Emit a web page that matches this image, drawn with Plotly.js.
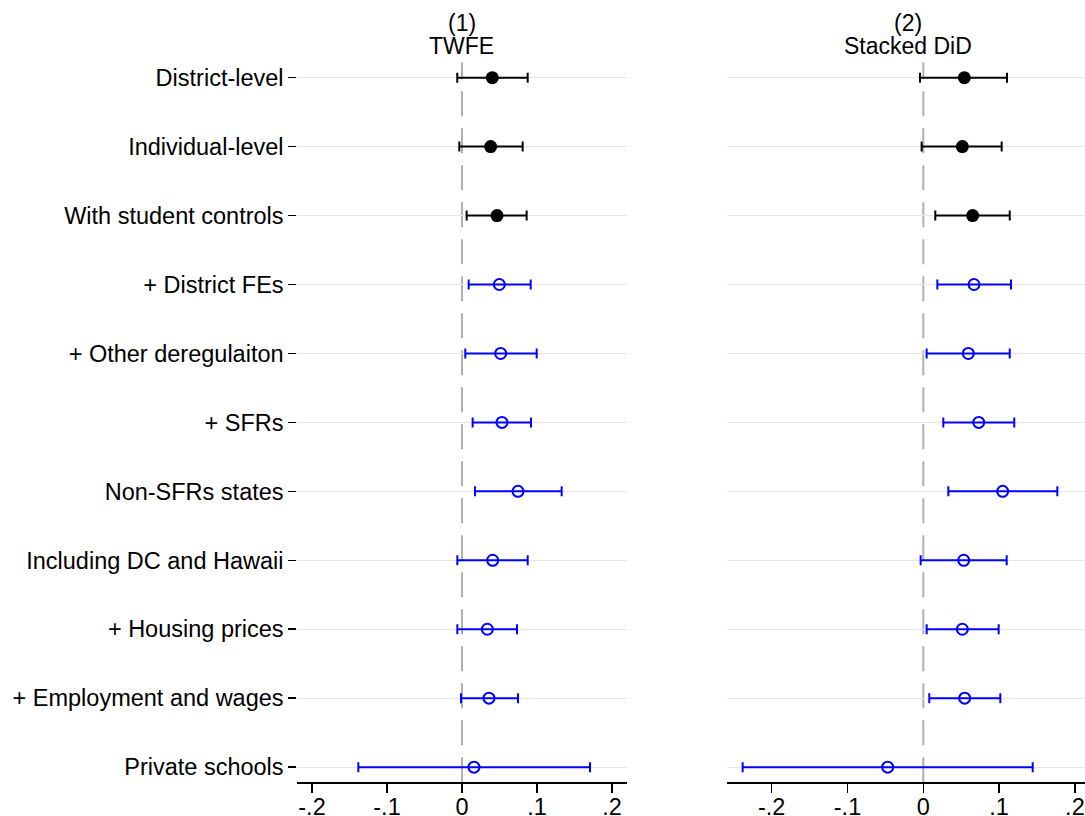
<!DOCTYPE html>
<html>
<head>
<meta charset="utf-8">
<script src="https://cdn.plot.ly/plotly-3.0.1.min.js"></script>
<style>
  html, body { margin: 0; padding: 0; background: #fff; }
  #chart { width: 1085px; height: 816px; }
</style>
</head>
<body>
<div id="chart"></div>
<script>
// Specification labels, top to bottom
const specs = [
  "District-level",
  "Individual-level",
  "With student controls",
  "+ District FEs",
  "+ Other deregulaiton",
  "+ SFRs",
  "Non-SFRs states",
  "Including DC and Hawaii",
  "+ Housing prices",
  "+ Employment and wages",
  "Private schools"
];

// Which group each specification belongs to
const specGroup = [
  "baseline", "baseline", "baseline",
  "robustness", "robustness", "robustness", "robustness",
  "robustness", "robustness", "robustness", "robustness"
];

// (1) TWFE: point estimates and confidence bounds
const twfeEst = [0.0404, 0.0382, 0.0467, 0.0498, 0.0516, 0.0533, 0.0747, 0.0409, 0.0338, 0.0360, 0.0160];
const twfeLo  = [-0.0063, -0.0036, 0.0062, 0.0089, 0.0044, 0.0142, 0.0173, -0.0062, -0.0062, -0.0013, -0.1382];
const twfeHi  = [0.0876, 0.0809, 0.0862, 0.0916, 0.0996, 0.0920, 0.1329, 0.0876, 0.0733, 0.0747, 0.1707];

// (2) Stacked DiD: point estimates and confidence bounds
const stackEst = [0.0541, 0.0515, 0.0651, 0.0669, 0.0594, 0.0731, 0.1047, 0.0533, 0.0515, 0.0546, -0.0470];
const stackLo  = [-0.0044, -0.0022, 0.0158, 0.0185, 0.0044, 0.0264, 0.0330, -0.0035, 0.0044, 0.0079, -0.2383];
const stackHi  = [0.1104, 0.1034, 0.1140, 0.1157, 0.1140, 0.1200, 0.1768, 0.1100, 0.0994, 0.1016, 0.1443];

// X-axis tick labels
const xTickVals = [-0.2, -0.1, 0, 0.1, 0.2];
const xTickText = ["-.2", "-.1", "0", ".1", ".2"];

const FONT = "Liberation Sans, Arial, Helvetica, sans-serif";
const FS = 23.5;
const rows = specs.map((_, i) => i + 1);

const groupStyle = {
  baseline:   { color: "#000000", marker: { symbol: "circle", size: 13, color: "#000000" } },
  robustness: { color: "#0000ff", marker: { symbol: "circle-open", size: 11, color: "#0000ff", line: { width: 2, color: "#0000ff" } } }
};

function panelTraces(est, lo, hi, xa, ya) {
  const out = [];
  ["baseline", "robustness"].forEach(g => {
    const idx = rows.map((r, i) => i).filter(i => specGroup[i] === g);
    const st = groupStyle[g];
    out.push({
      type: "scatter",
      mode: "markers",
      x: idx.map(i => est[i]),
      y: idx.map(i => rows[i]),
      xaxis: xa, yaxis: ya,
      marker: st.marker,
      error_x: {
        type: "data",
        symmetric: false,
        array: idx.map(i => hi[i] - est[i]),
        arrayminus: idx.map(i => est[i] - lo[i]),
        color: st.color,
        thickness: 2,
        width: 5
      },
      showlegend: false,
      hoverinfo: "x+y"
    });
  });
  return out;
}

const traces = [
  ...panelTraces(twfeEst, twfeLo, twfeHi, "x", "y"),
  ...panelTraces(stackEst, stackLo, stackHi, "x2", "y2")
];

const yRange = [11.22, 0.78];
const yDomain = [0.0413, 0.9234];

const xCommon = {
  tickvals: xTickVals,
  ticktext: xTickText,
  showline: true,
  linecolor: "#000000",
  linewidth: 1.5,
  ticks: "outside",
  ticklen: 9,
  tickwidth: 1.5,
  tickcolor: "#000000",
  ticklabelstandoff: -6,
  showgrid: false,
  zeroline: false,
  tickfont: { family: FONT, size: FS, color: "#000000" }
};

const layout = {
  width: 1085,
  height: 816,
  margin: { l: 0, r: 0, t: 0, b: 0 },
  paper_bgcolor: "#ffffff",
  plot_bgcolor: "#ffffff",
  font: { family: FONT, size: FS, color: "#000000" },
  xaxis: Object.assign({}, xCommon, { domain: [0.274, 0.5776], range: [-0.2196, 0.2196], anchor: "y" }),
  xaxis2: Object.assign({}, xCommon, { domain: [0.6703, 1.0], range: [-0.2586, 0.2133], anchor: "y2" }),
  yaxis: {
    domain: yDomain,
    range: yRange,
    tickvals: rows,
    ticktext: specs,
    ticks: "outside",
    ticklen: 8,
    tickwidth: 1.5,
    tickcolor: "#000000",
    showline: false,
    showgrid: true,
    gridcolor: "#e6e6e6",
    gridwidth: 1,
    zeroline: false,
    anchor: "x",
    tickfont: { family: FONT, size: FS, color: "#000000" }
  },
  yaxis2: {
    domain: yDomain,
    range: yRange,
    tickvals: rows,
    showticklabels: false,
    ticks: "",
    showline: false,
    showgrid: true,
    gridcolor: "#e6e6e6",
    gridwidth: 1,
    zeroline: false,
    anchor: "x2"
  },
  shapes: [
    { type: "line", xref: "x", yref: "y domain", x0: 0, x1: 0, y0: 0, y1: 1,
      line: { color: "#b0b0b0", width: 2, dash: "25px,12px" }, layer: "below" },
    { type: "line", xref: "x2", yref: "y2 domain", x0: 0, x1: 0, y0: 0, y1: 1,
      line: { color: "#b0b0b0", width: 2, dash: "25px,12px" }, layer: "below" }
  ],
  annotations: [
    { text: "(1)", xref: "paper", yref: "paper", x: 0.4255, y: 0.9718, xanchor: "center", yanchor: "middle", showarrow: false, font: { family: FONT, size: 23 } },
    { text: "TWFE", xref: "paper", yref: "paper", x: 0.4255, y: 0.9437, xanchor: "center", yanchor: "middle", showarrow: false, font: { family: FONT, size: 23 } },
    { text: "(2)", xref: "paper", yref: "paper", x: 0.8373, y: 0.9718, xanchor: "center", yanchor: "middle", showarrow: false, font: { family: FONT, size: 23 } },
    { text: "Stacked DiD", xref: "paper", yref: "paper", x: 0.8373, y: 0.9437, xanchor: "center", yanchor: "middle", showarrow: false, font: { family: FONT, size: 23 } }
  ]
};

Plotly.newPlot("chart", traces, layout, { displayModeBar: false, staticPlot: true });
</script>
</body>
</html>
